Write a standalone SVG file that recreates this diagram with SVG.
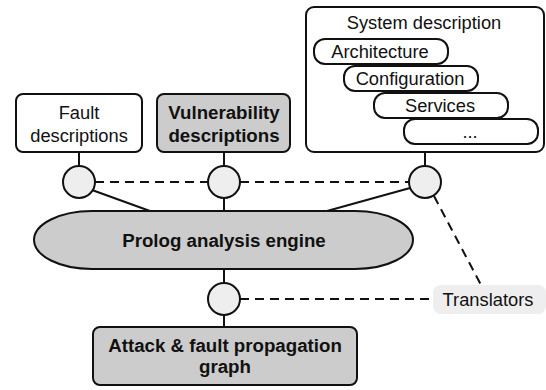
<svg xmlns="http://www.w3.org/2000/svg" width="546" height="390" viewBox="0 0 546 390">
<style>
text{font-family:"Liberation Sans",Arial,sans-serif;font-size:18.3px;fill:#111;text-anchor:middle}
.b{font-weight:bold;font-size:18.7px}
.box{stroke:#111;stroke-width:2;fill:#fff}
.gray{fill:#cccccc}
.pill{stroke:#111;stroke-width:2;fill:#fff}
.port{stroke:#111;stroke-width:2;fill:#eeeeee}
.ln{stroke:#111;stroke-width:2;fill:none}
.dash{stroke:#111;stroke-width:2;fill:none;stroke-dasharray:9 6}
</style>
<g id="connectors">
<line class="ln" x1="79" y1="152" x2="79" y2="166"/>
<line class="ln" x1="224" y1="152" x2="224" y2="166"/>
<line class="ln" x1="425" y1="152" x2="425" y2="166"/>
<line class="ln" x1="92" y1="190" x2="150" y2="211"/>
<line class="ln" x1="224" y1="198" x2="224" y2="211"/>
<line class="ln" x1="410" y1="188" x2="327" y2="211"/>
<line class="ln" x1="224" y1="269" x2="224" y2="283"/>
<line class="ln" x1="224" y1="315" x2="224" y2="327"/>
<line class="dash" x1="95" y1="182" x2="208" y2="182"/>
<line class="dash" x1="240" y1="182" x2="409" y2="182"/>
<line class="dash" x1="240" y1="299" x2="433" y2="299"/>
<line class="dash" x1="434" y1="196" x2="481" y2="285"/>
</g>
<g id="fault">
<rect class="box" x="16" y="94" width="126" height="58" rx="7"/>
<text x="79" y="119">Fault</text>
<text x="79" y="142">descriptions</text>
</g>
<g id="vuln">
<rect class="box gray" x="157" y="94" width="133" height="58" rx="7"/>
<text class="b" x="224" y="119">Vulnerability</text>
<text class="b" x="224" y="142">descriptions</text>
</g>
<g id="system">
<rect class="box" x="306" y="7" width="238" height="145" rx="8"/>
<text x="424" y="29">System description</text>
</g>
<g id="architecture">
<rect class="pill" x="314" y="39" width="134" height="25" rx="11"/>
<text x="380" y="58">Architecture</text>
</g>
<g id="configuration">
<rect class="pill" x="344" y="66" width="134" height="25" rx="11"/>
<text x="410" y="85">Configuration</text>
</g>
<g id="services">
<rect class="pill" x="374" y="93" width="134" height="25" rx="11"/>
<text x="440" y="112">Services</text>
</g>
<g id="more">
<rect class="pill" x="404" y="119" width="134" height="25" rx="11"/>
<text x="470" y="138">...</text>
</g>
<g id="port1"><circle class="port" cx="79" cy="182" r="16"/></g>
<g id="port2"><circle class="port" cx="224" cy="182" r="16"/></g>
<g id="port3"><circle class="port" cx="425" cy="182" r="16"/></g>
<g id="engine">
<rect class="box gray" x="34" y="211" width="379" height="58" rx="58" ry="29"/>
<text class="b" x="224" y="247">Prolog analysis engine</text>
</g>
<g id="port4"><circle class="port" cx="224" cy="299" r="16"/></g>
<g id="graph">
<rect class="box gray" x="93" y="327" width="264" height="58" rx="7"/>
<text class="b" x="225" y="352">Attack &amp; fault propagation</text>
<text class="b" x="225" y="373">graph</text>
</g>
<g id="translators">
<rect x="433" y="285" width="113" height="29" rx="8" fill="#eeeeee"/>
<text x="488" y="306">Translators</text>
</g>
</svg>
